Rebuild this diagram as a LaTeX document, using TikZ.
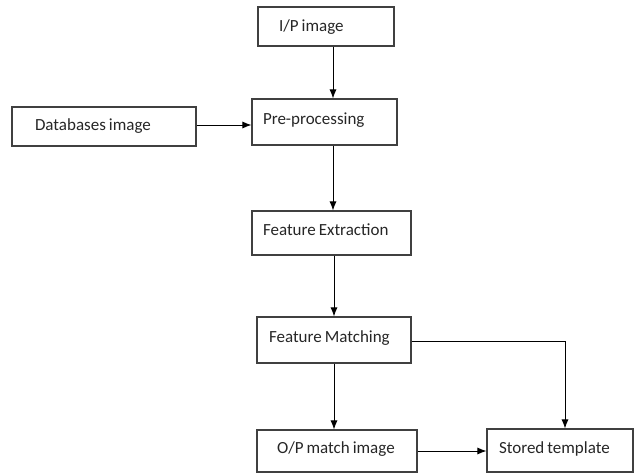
\documentclass[tikz,border=0pt]{standalone}
\usepackage{fontspec}
\setmainfont{Carlito}
\usetikzlibrary{arrows.meta}

\begin{document}
\begin{tikzpicture}[
  x=1pt, y=-1pt,
  font=\fontsize{17}{20}\selectfont,
  blk/.style={draw=black!75, line width=1.1pt, align=left, text=black!85,
    inner ysep=0pt, text height=11pt, text depth=6pt,
    execute at begin node={\spaceskip=3pt\relax\hyphenpenalty=10000\relax}},
  link/.style={draw=black, line width=0.9pt, -{Latex[length=9pt,width=7pt]}}
]
\useasboundingbox (0,0) rectangle (634,473);

% Blocks
\node[blk, text width=94pt, inner xsep=21pt, minimum height=39pt, text depth=1pt] (ip) at (326,26.5) {I/P image};
\node[blk, text width=123pt, inner xsep=11pt, minimum height=46pt] (pre) at (324.5,122) {Pre-processing};
\node[blk, text width=138pt, inner xsep=23pt, minimum height=39pt, text depth=2pt] (db) at (104,126.5) {Databases image};
\node[blk, text width=137pt, inner xsep=11pt, minimum height=44pt] (fe) at (331.5,233) {Feature Extraction};
\node[blk, text width=130pt, inner xsep=12pt, minimum height=46pt] (fm) at (334,340) {Feature Matching};
\node[blk, text width=120pt, inner xsep=20pt, minimum height=42pt] (op) at (337,451) {O/P match image};
\node[blk, text width=122pt, inner xsep=12pt, minimum height=43pt] (st) at (560,450.5) {Stored template};

% Connectors
\draw[link] (ip.south -| 333,0) -- (pre.north -| 333,0);
\draw[link] (db.east |- 0,125) -- (pre.west |- 0,125);
\draw[link] (pre.south -| 333,0) -- (fe.north -| 333,0);
\draw[link] (fe.south -| 334,0) -- (fm.north -| 334,0);
\draw[link] (fm.south -| 334,0) -- (op.north -| 334,0);
\draw[link] (fm.east |- 0,341) -| (st.north -| 565,0);
\draw[link] (op.east |- 0,451) -- (st.west |- 0,451);

\end{tikzpicture}
\end{document}
